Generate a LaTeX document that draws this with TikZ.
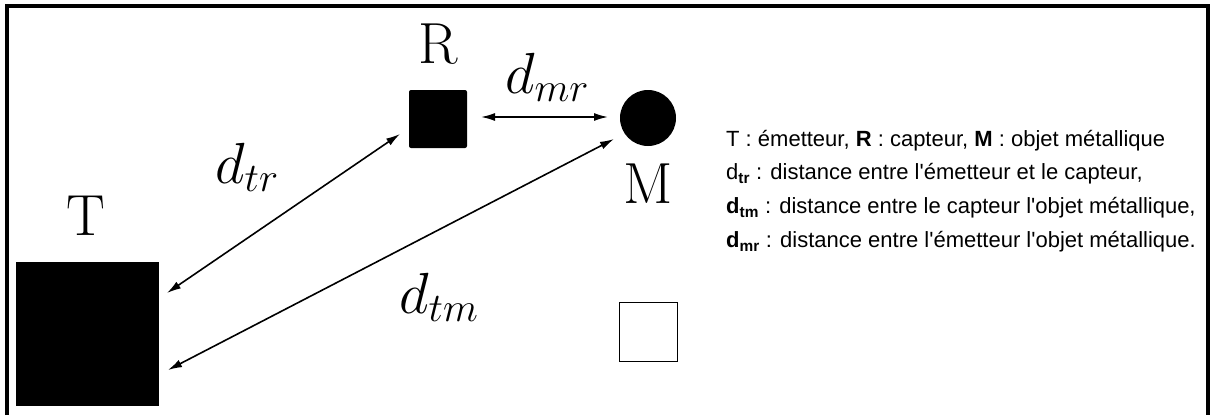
\RequirePackage{fix-cm}
\documentclass[tikz,border=0pt]{standalone}
\usepackage{fontspec}
\newfontfamily\legendfont{Liberation Sans}
\usetikzlibrary{arrows.meta}
\begin{document}
\begin{tikzpicture}[x=1pt,y=-1pt,
  solidbox/.style={fill=black,draw=none,inner sep=0pt,outer sep=0pt},
  emptybox/.style={draw=black,line width=1.5pt,fill=white,inner sep=0pt,outer sep=0pt,minimum width=58pt,minimum height=59pt},
  biglabel/.style={font=\fontsize{58}{58}\selectfont,inner sep=0pt},
  distarrow/.style={line width=1.6pt,{Latex[length=14pt,width=8pt]}-{Latex[length=14pt,width=8pt]}},
  legend/.style={font=\legendfont\fontsize{22}{22}\selectfont,anchor=west,inner sep=0pt}
]
\useasboundingbox (0,0) rectangle (1210,415);
\fill[white] (0,0) rectangle (1210,415);
% frame (open at the bottom)
\draw[line width=4pt] (7,415) -- (7,6) -- (1208,6) -- (1208,415);

% objects
\node[solidbox,minimum width=143pt,minimum height=144pt] (T) at (87.5,334) {};
\node[solidbox,minimum width=58pt,minimum height=58pt,rounded corners=2pt] (R) at (438,119) {};
\node[circle,fill=black,inner sep=0pt,minimum size=56pt] (M) at (648,118) {};
\node[emptybox] (E) at (648.5,332) {};

% labels
\node[biglabel,anchor=base] (Tl) at (86,235) {T};
\node[biglabel,anchor=base] (Rl) at (438,63) {R};
\node[biglabel,anchor=base] (Ml) at (648,203) {M};
\node[biglabel,anchor=base west] (dtr) at (215,183) {$d_{tr}$};
\node[biglabel,anchor=base west] (dmr) at (505,93) {$d_{mr}$};
\node[biglabel,anchor=base west] (dtm) at (399,313) {$d_{tm}$};

% arrow end points
\coordinate (a1) at (167,293);
\coordinate (a2) at (400,134);
\coordinate (b1) at (168,370);
\coordinate (b2) at (614,139);
\coordinate (c1) at (481,117);
\coordinate (c2) at (608,117);
\draw[distarrow] (a1) -- (a2);
\draw[distarrow] (b1) -- (b2);
\draw[distarrow] (c1) -- (c2);

% legend
\node[legend] (L1) at (726,141) {T : émetteur, \textbf{R} : capteur, \textbf{M} : objet métallique};
\node[legend] (L2) at (726,174) {d\textsubscript{\textbf{tr}} : distance entre l'émetteur et le capteur,};
\node[legend] (L3) at (726,208) {\textbf{d\textsubscript{tm}} : distance entre le capteur l'objet métallique,};
\node[legend] (L4) at (726,242) {\textbf{d\textsubscript{mr}} : distance entre l'émetteur l'objet métallique.};
\end{tikzpicture}
\end{document}
